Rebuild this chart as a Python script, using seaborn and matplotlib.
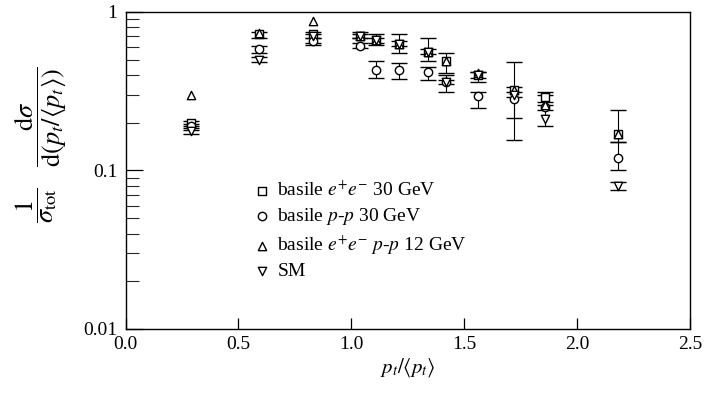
import matplotlib
matplotlib.use("Agg")
import matplotlib.pyplot as plt
import seaborn as sns
import numpy as np
import pandas as pd
from matplotlib.ticker import LogLocator, NullFormatter, FixedLocator, FixedFormatter

# ---- data ----
x_pts = [0.29, 0.59, 0.83, 1.04, 1.11, 1.21, 1.34, 1.42, 1.56, 1.72, 1.86, 2.18]

sq_y = [0.20, 0.72, 0.72, 0.70, 0.66, 0.63, 0.56, 0.49, 0.40, 0.32, 0.29, 0.17]
sq_lo = [0.19, 0.68, 0.64, 0.68, 0.62, 0.55, 0.49, 0.41, 0.36, 0.213, 0.27, 0.15]
sq_hi = [0.205, 0.75, 0.75, 0.75, 0.72, 0.72, 0.68, 0.55, 0.42, 0.48, 0.31, 0.24]

ci_y = [0.19, 0.58, 0.65, 0.61, 0.43, 0.43, 0.42, 0.36, 0.295, 0.28, 0.25, 0.12]
ci_lo = [0.185, 0.55, 0.62, 0.59, 0.38, 0.376, 0.37, 0.31, 0.247, 0.156, 0.24, 0.10]
ci_hi = [0.195, 0.61, 0.68, 0.64, 0.49, 0.475, 0.45, 0.40, 0.31, 0.335, 0.26, 0.15]

tu_y = [0.30, 0.73, 0.88, 0.70, 0.66, 0.63, 0.56, 0.49, 0.41, 0.32, 0.26, 0.17]
td_y = [0.176, 0.50, 0.70, 0.70, 0.66, 0.63, 0.56, 0.36, 0.40, 0.30, 0.21, 0.08]
td_lo = [0.17, 0.48, 0.68, 0.68, 0.64, 0.61, 0.54, 0.35, 0.38, 0.29, 0.19, 0.075]
td_hi = [0.18, 0.52, 0.72, 0.72, 0.68, 0.65, 0.58, 0.37, 0.42, 0.31, 0.30, 0.085]

labels = [r'basile $e^{+}e^{-}$ 30 GeV',
          r'basile $p$-$p$ 30 GeV',
          r'basile $e^{+}e^{-}$ $p$-$p$ 12 GeV',
          'SM']
x_ticks = [0.0, 0.5, 1.0, 1.5, 2.0, 2.5]
x_ticklabels = ['0.0', '0.5', '1.0', '1.5', '2.0', '2.5']
y_ticks = [0.01, 0.1, 1]
y_ticklabels = ['0.01', '0.1', '1']

sns.set_theme(style="white")
plt.rcParams['font.family'] = ['Liberation Serif', 'DejaVu Serif']
plt.rcParams['mathtext.fontset'] = 'stix'

fig = plt.figure(figsize=(7.06, 3.94), dpi=100)
ax = fig.add_axes([0.178, 0.165, 0.799, 0.805])

series = [
    (sq_y, sq_lo, sq_hi, 's', labels[0]),
    (ci_y, ci_lo, ci_hi, 'o', labels[1]),
    (tu_y, None, None, '^', labels[2]),
    (td_y, td_lo, td_hi, 'v', labels[3]),
]

for yv, lo, hi, mk, lab in series:
    df = pd.DataFrame({'x': x_pts, 'y': yv})
    if lo is not None:
        yerr = np.array([np.array(yv) - np.array(lo), np.array(hi) - np.array(yv)])
        ax.errorbar(df['x'], df['y'], yerr=yerr, fmt='none', ecolor='black',
                    elinewidth=0.8, capsize=6, capthick=1.0, zorder=2)
    sns.scatterplot(data=df, x='x', y='y', marker=mk, s=36, facecolors='white',
                    edgecolor='black', linewidth=1.0, ax=ax, label=lab, zorder=3)

ax.set_yscale('log')
ax.set_xlim(0.0, 2.5)
ax.set_ylim(0.01, 1.0)

ax.xaxis.set_major_locator(FixedLocator(x_ticks))
ax.xaxis.set_major_formatter(FixedFormatter(x_ticklabels))
ax.yaxis.set_major_locator(FixedLocator(y_ticks))
ax.yaxis.set_major_formatter(FixedFormatter(y_ticklabels))
ax.yaxis.set_minor_locator(LogLocator(base=10, subs=np.arange(2, 10)))
ax.yaxis.set_minor_formatter(NullFormatter())

ax.tick_params(axis='x', which='major', direction='in', length=8, width=0.9,
               labelsize=14, pad=5, colors='black', bottom=True, top=False)
ax.tick_params(axis='y', which='major', direction='in', length=12, width=0.9,
               labelsize=14, pad=6, colors='black', left=True, right=False)
ax.tick_params(axis='y', which='minor', direction='in', length=9, width=0.8,
               left=True, right=False)

for sp in ax.spines.values():
    sp.set_color('black')
    sp.set_linewidth(1.0)

ax.set_xlabel(r'$p_t/\langle p_t\rangle$', fontsize=15, color='black', labelpad=2)
ax.set_ylabel(r'$\dfrac{1}{\sigma_{\rm tot}}\quad\dfrac{{\rm d}\sigma}{{\rm d}(p_t/\langle p_t\rangle)}$',
              fontsize=19, color='black', labelpad=4)
ax.yaxis.set_label_coords(-0.1, 0.58)

leg = ax.legend(loc='upper left', bbox_to_anchor=(0.2, 0.51), frameon=False,
                fontsize=14, handletextpad=0.3, labelspacing=0.3,
                borderpad=0.2, handlelength=1.0)
for t in leg.get_texts():
    t.set_color('black')

fig.savefig('out.png', dpi=100)
